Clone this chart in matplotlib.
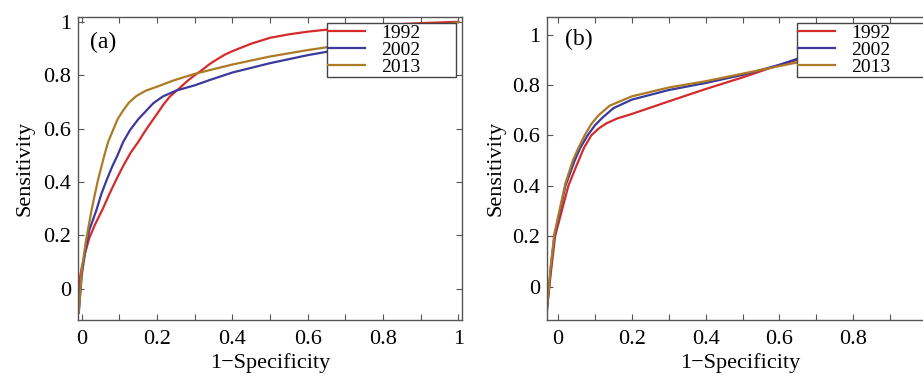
import matplotlib
matplotlib.use("Agg")
import matplotlib.pyplot as plt
from matplotlib.ticker import MultipleLocator, FuncFormatter

plt.rcParams['font.family'] = ['Liberation Serif', 'DejaVu Serif']

years = ["1992", "2002", "2013"]
colors = ["#d42b2b", "#3b3a9c", "#ad7a26"]

# Panel (a)
a_1992_x = [-0.008, -0.005, 0.0, 0.01, 0.02, 0.035, 0.056, 0.075, 0.092, 0.11, 0.13, 0.15, 0.168, 0.185, 0.2, 0.217, 0.234, 0.26, 0.282, 0.30, 0.32, 0.34, 0.36, 0.38, 0.40, 0.45, 0.5, 0.55, 0.6, 0.7, 0.8, 0.9, 1.0]
a_1992_y = [-0.09, 0.04, 0.08, 0.14, 0.19, 0.24, 0.30, 0.36, 0.41, 0.46, 0.51, 0.55, 0.59, 0.625, 0.655, 0.69, 0.72, 0.752, 0.78, 0.80, 0.82, 0.842, 0.86, 0.877, 0.89, 0.918, 0.94, 0.953, 0.963, 0.978, 0.988, 0.995, 1.0]
a_2002_x = [-0.008, 0.0, 0.01, 0.02, 0.039, 0.052, 0.066, 0.08, 0.095, 0.11, 0.128, 0.15, 0.17, 0.19, 0.215, 0.25, 0.3, 0.34, 0.4, 0.5, 0.6, 0.7, 0.8, 0.9, 1.0]
a_2002_y = [-0.09, 0.05, 0.15, 0.22, 0.295, 0.355, 0.407, 0.455, 0.50, 0.55, 0.594, 0.635, 0.665, 0.695, 0.72, 0.742, 0.762, 0.782, 0.81, 0.845, 0.875, 0.90, 0.93, 0.96, 1.0]
a_2013_x = [-0.008, 0.0, 0.01, 0.026, 0.035, 0.043, 0.06, 0.07, 0.083, 0.095, 0.11, 0.125, 0.145, 0.17, 0.2, 0.243, 0.3, 0.4, 0.5, 0.6, 0.7, 0.8, 0.9, 1.0]
a_2013_y = [-0.09, 0.07, 0.17, 0.295, 0.355, 0.407, 0.50, 0.55, 0.594, 0.635, 0.668, 0.697, 0.722, 0.742, 0.757, 0.78, 0.805, 0.84, 0.87, 0.894, 0.915, 0.94, 0.965, 1.0]

# Panel (b)
b_1992_x = [-0.03, -0.02, -0.008, 0.01, 0.028, 0.05, 0.07, 0.09, 0.11, 0.13, 0.16, 0.2, 0.3, 0.4, 0.5, 0.6, 0.65, 0.8, 0.9, 1.0]
b_1992_y = [-0.09, 0.05, 0.2, 0.3, 0.4, 0.48, 0.55, 0.6, 0.627, 0.647, 0.667, 0.685, 0.735, 0.784, 0.83, 0.88, 0.90, 0.94, 0.97, 1.0]
b_2002_x = [-0.03, -0.02, -0.01, 0.005, 0.02, 0.045, 0.06, 0.08, 0.1, 0.12, 0.15, 0.2, 0.3, 0.4, 0.5, 0.6, 0.65, 0.8, 1.0]
b_2002_y = [-0.09, 0.07, 0.2, 0.3, 0.4, 0.5, 0.55, 0.6, 0.64, 0.67, 0.708, 0.742, 0.78, 0.808, 0.84, 0.88, 0.905, 0.95, 1.0]
b_2013_x = [-0.03, -0.02, -0.01, 0.005, 0.02, 0.04, 0.055, 0.072, 0.09, 0.11, 0.14, 0.2, 0.3, 0.4, 0.5, 0.6, 0.65, 0.8, 1.0]
b_2013_y = [-0.09, 0.08, 0.21, 0.31, 0.41, 0.5, 0.55, 0.6, 0.645, 0.68, 0.718, 0.755, 0.79, 0.815, 0.845, 0.875, 0.89, 0.94, 1.0]

xticks_a = [0, 0.2, 0.4, 0.6, 0.8, 1.0]
xticks_b = [0, 0.2, 0.4, 0.6, 0.8]
yticks = [0, 0.2, 0.4, 0.6, 0.8, 1.0]

W, H = 923, 379
fig = plt.figure(figsize=(W / 100, H / 100), dpi=100)

def px_axes(l, r, t, b):
    return [l / W, 1 - b / H, (r - l) / W, (b - t) / H]

ax_a = fig.add_axes(px_axes(78, 462, 17, 320))
ax_b = fig.add_axes(px_axes(547, 938, 17, 320))

fmt = FuncFormatter(lambda v, p: ("%g" % round(v, 2)))

def style(ax, xlim, ylim, xticks):
    ax.set_xlim(*xlim)
    ax.set_ylim(*ylim)
    ax.set_xticks(xticks)
    ax.set_yticks(yticks)
    ax.xaxis.set_minor_locator(MultipleLocator(0.1))
    ax.xaxis.set_major_formatter(fmt)
    ax.yaxis.set_major_formatter(fmt)
    ax.tick_params(which='both', direction='in', top=True, right=True,
                   color='#555555', labelsize=16)
    ax.tick_params(which='major', length=4, width=0.8)
    ax.tick_params(which='minor', length=4, width=0.8)
    ax.tick_params(axis='x', pad=7)
    ax.tick_params(axis='y', pad=5)
    for s in ax.spines.values():
        s.set_color('#555555')
        s.set_linewidth(1.0)
    ax.set_xlabel("1\u2212Specificity", fontsize=16)
    ax.set_ylabel("Sensitivity", fontsize=16)

series_a = [(a_1992_x, a_1992_y), (a_2002_x, a_2002_y), (a_2013_x, a_2013_y)]
series_b = [(b_1992_x, b_1992_y), (b_2002_x, b_2002_y), (b_2013_x, b_2013_y)]

for ax, series in ((ax_a, series_a), (ax_b, series_b)):
    for (xs, ys), c, lab in zip(series, colors, years):
        ax.plot(xs, ys, color=c, lw=1.6, label=lab, solid_joinstyle='round')

style(ax_a, (-0.01, 1.01), (-0.117, 1.018), xticks_a)
style(ax_b, (-0.03, 1.03), (-0.133, 1.07), xticks_b)

ax_a.xaxis.set_label_coords(0.5, -0.109)
ax_a.yaxis.set_label_coords(-0.112, 0.5)
ax_b.xaxis.set_label_coords(0.494, -0.109)
ax_b.yaxis.set_label_coords(-0.107, 0.5)

ax_a.text(0.031, 0.917, "(a)", transform=ax_a.transAxes, fontsize=17,
          ha='left', va='center')
ax_b.text(0.046, 0.927, "(b)", transform=ax_b.transAxes, fontsize=17,
          ha='left', va='center')

def add_legend(ax, x0, y0, w, h):
    leg = ax.legend(loc='upper left', bbox_to_anchor=(x0, y0, w, h), mode='expand',
                    fontsize=14, frameon=True, fancybox=False, framealpha=1,
                    edgecolor='#444444', borderaxespad=0, borderpad=0.08,
                    labelspacing=-0.05, handlelength=1.9, handletextpad=0.8)
    leg.get_frame().set_linewidth(1.0)
    return leg

add_legend(ax_a, 0.648, 0.802, 0.336, 0.178)
add_legend(ax_b, 0.639, 0.802, 0.345, 0.178)

fig.savefig("out.png", dpi=100)
